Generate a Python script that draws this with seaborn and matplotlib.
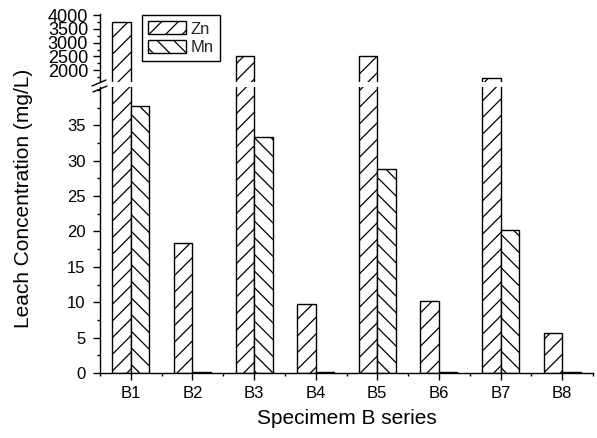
import matplotlib
matplotlib.use('Agg')
import matplotlib.pyplot as plt
import seaborn as sns
import pandas as pd
import numpy as np
from matplotlib.patches import Patch
from matplotlib.lines import Line2D
from matplotlib.ticker import FixedLocator

categories = ['B1', 'B2', 'B3', 'B4', 'B5', 'B6', 'B7', 'B8']
zn = [3750, 18.3, 2500, 9.8, 2530, 10.2, 1700, 5.6]
mn = [37.7, 0.15, 33.35, 0.15, 28.8, 0.15, 20.2, 0.15]
series = ['Zn', 'Mn']
hatches = ['//', '\\\\']
upper_ticks = [2000, 2500, 3000, 3500, 4000]
lower_ticks = [0, 5, 10, 15, 20, 25, 30, 35]

df = pd.DataFrame({
    'Specimen': categories * 2,
    'Conc': zn + mn,
    'Metal': ['Zn'] * len(categories) + ['Mn'] * len(categories),
})

sns.set_theme(style='ticks')
plt.rcParams['font.family'] = ['Liberation Sans', 'DejaVu Sans']
plt.rcParams['hatch.linewidth'] = 0.9
plt.rcParams['hatch.color'] = 'black'

W, H = 597, 438
fig = plt.figure(figsize=(W / 100, H / 100), dpi=100)
left = 100 / W
width = (593 - 100) / W
ax_top = fig.add_axes([left, 1 - 82 / H, width, (82 - 14) / H])
ax_bot = fig.add_axes([left, 1 - 373 / H, width, (373 - 87) / H])

for ax in (ax_top, ax_bot):
    sns.barplot(data=df, x='Specimen', y='Conc', hue='Metal', hue_order=series,
                order=categories, palette={'Zn': 'white', 'Mn': 'white'},
                edgecolor='black', linewidth=1.0, width=0.6, saturation=1,
                errorbar=None, legend=False, ax=ax)
    for cont, h in zip(ax.containers, hatches):
        for p in cont:
            p.set_hatch(h)
            p.set_edgecolor('black')
    ax.set_xlim(-0.5, 7.5)
    ax.set_xlabel('')
    ax.set_ylabel('')
    ax.set_facecolor('white')
    for s in ['top', 'right']:
        ax.spines[s].set_visible(False)
    for s in ['left', 'bottom']:
        ax.spines[s].set_color('black')
        ax.spines[s].set_linewidth(1.0)

# upper axis
ax_top.set_ylim(1570, 4040)
ax_top.spines['bottom'].set_visible(False)
ax_top.set_yticks(upper_ticks)
ax_top.yaxis.set_minor_locator(FixedLocator(np.arange(1750, 4001, 250)))
ax_top.tick_params(axis='x', which='both', bottom=False, labelbottom=False)
ax_top.tick_params(axis='y', which='major', left=True, direction='out', length=5,
                   width=1, color='black', labelsize=13, pad=3.5, labelcolor='black')
ax_top.tick_params(axis='y', which='minor', left=True, direction='out', length=2.5,
                   width=1, color='black')

# lower axis
ax_bot.set_ylim(0, 40.4)
ax_bot.set_yticks(lower_ticks)
ax_bot.yaxis.set_minor_locator(FixedLocator(np.arange(2.5, 40.01, 2.5)))
ax_bot.xaxis.set_minor_locator(FixedLocator(np.arange(-0.5, 7.6, 1.0)))
ax_bot.tick_params(axis='y', which='major', left=True, direction='out', length=5,
                   width=1, color='black', labelsize=12, pad=5.5, labelcolor='black')
ax_bot.tick_params(axis='y', which='minor', left=True, direction='out', length=2.5,
                   width=1, color='black')
ax_bot.tick_params(axis='x', which='major', bottom=True, direction='out', length=5,
                   width=1, color='black', labelsize=12, pad=4, labelcolor='black')
ax_bot.tick_params(axis='x', which='minor', bottom=True, direction='out', length=2.5,
                   width=1, color='black')
ax_bot.set_xlabel('Specimem B series', fontsize=15, labelpad=6, color='black')

fig.text(24 / W, 1 - 198 / H, 'Leach Concentration (mg/L)', rotation=90,
         ha='center', va='center', fontsize=15, color='black')

# break marks
for (x0, y0, x1, y1) in [(92, 86, 106, 80), (93, 92, 107, 86)]:
    fig.add_artist(Line2D([x0 / W, x1 / W], [1 - y0 / H, 1 - y1 / H],
                          transform=fig.transFigure, color='black', lw=1.0))

handles = [Patch(facecolor='white', edgecolor='black', hatch=h, linewidth=1.0, label=s)
           for s, h in zip(series, hatches)]
leg = ax_top.legend(handles=handles, loc='upper left',
                    bbox_to_anchor=(141.7 / W, 1 - 15.3 / H), bbox_transform=fig.transFigure,
                    borderaxespad=0, fontsize=12, handlelength=2.3, handleheight=0.84,
                    handletextpad=0.3, labelspacing=0.2, borderpad=0.35,
                    fancybox=False, framealpha=1, edgecolor='black')
leg.get_frame().set_linewidth(1.0)
leg.set_zorder(10)

fig.savefig('out.png', dpi=100)
